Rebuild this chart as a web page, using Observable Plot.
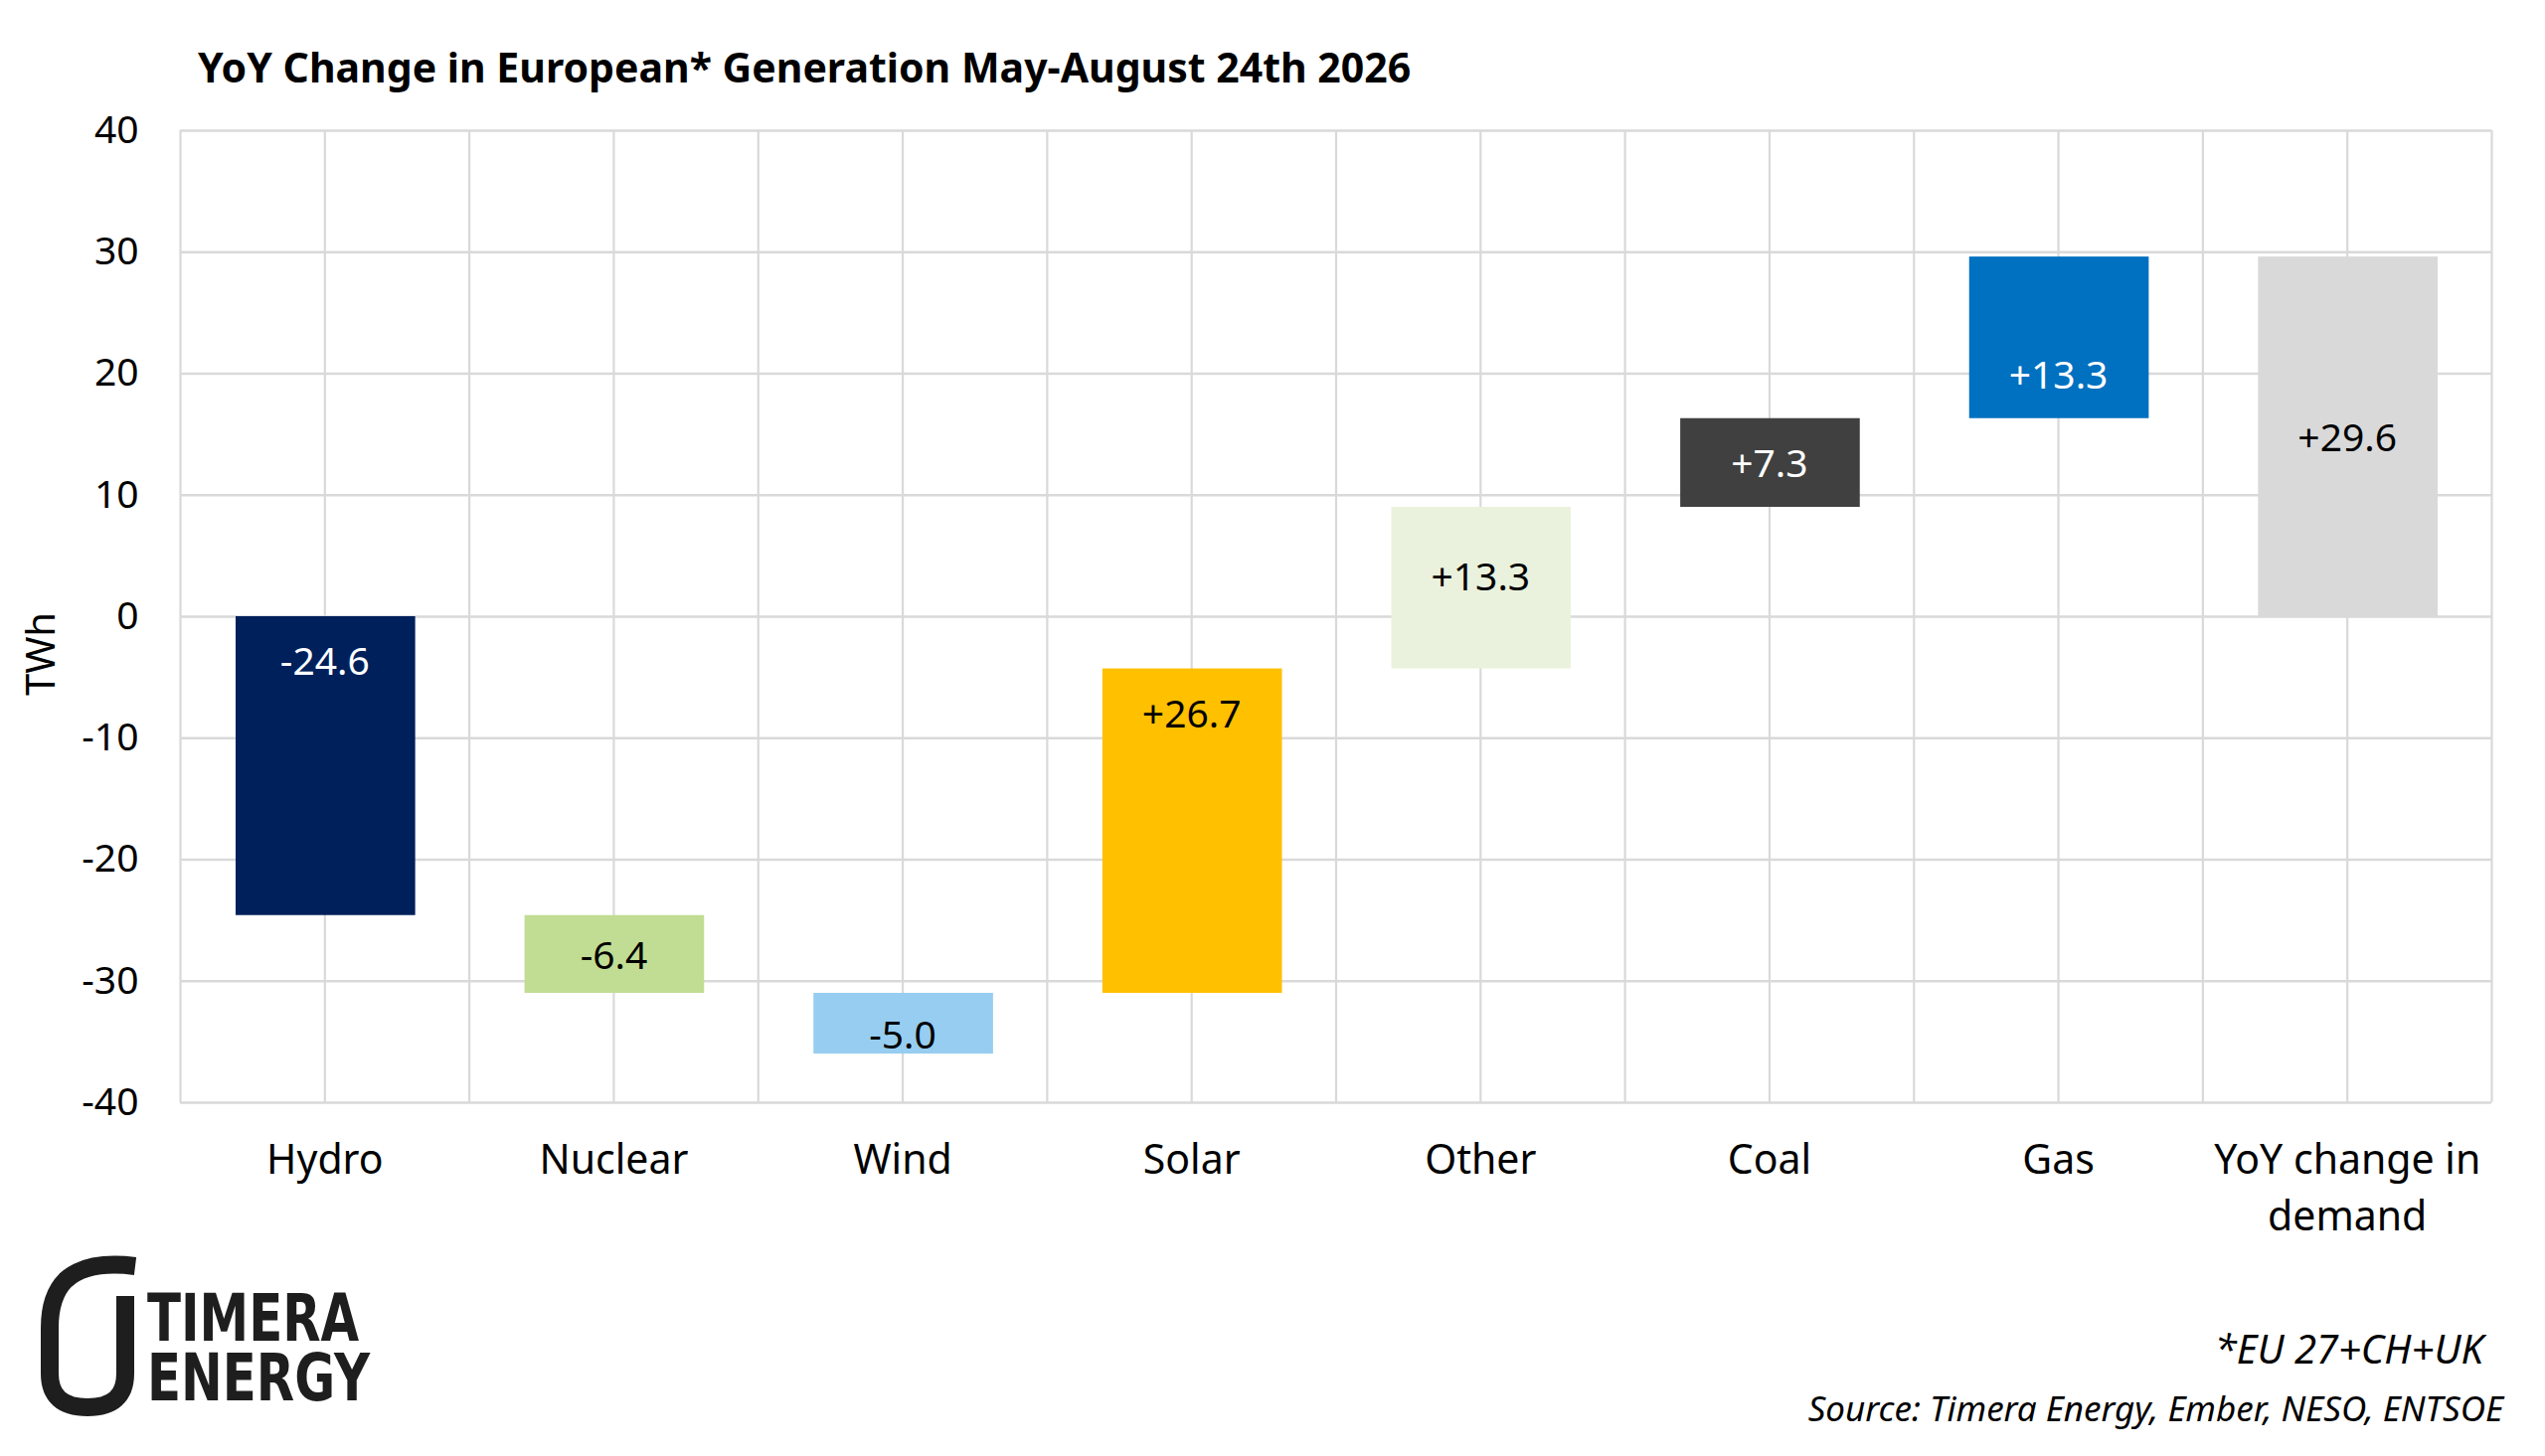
<!DOCTYPE html>
<html>
<head>
<meta charset="utf-8">
<script src="https://cdn.jsdelivr.net/npm/d3@7"></script>
<script src="https://cdn.jsdelivr.net/npm/@observablehq/plot@0.6"></script>
<style>
  html, body { margin: 0; padding: 0; background: #fff; }
  #page { position: relative; width: 2560px; height: 1465px; background: #fff; font-family: "Noto Sans", sans-serif; color: #000; }
  #title { position: absolute; left: 199px; top: 47px; font-size: 41px; line-height: 1; font-weight: 700; white-space: nowrap; }
  #chart { position: absolute; left: 0; top: 100px; }
  #ylabel { position: absolute; left: 40px; top: 658px; font-size: 40px; line-height: 1; white-space: nowrap; transform: translate(-50%, -50%) rotate(-90deg); }
  .note { position: absolute; font-style: italic; line-height: 1; white-space: nowrap; text-align: right; }
  #logo { position: absolute; left: 36px; top: 1260px; }
  #logotext { position: absolute; left: 148px; top: 1297px; display: inline-block; font-family: "DejaVu Sans Condensed", "DejaVu Sans", sans-serif; font-weight: 700; font-size: 66px; line-height: 60px; color: #1e1e1e; white-space: pre; transform-origin: 0 0; }
</style>
</head>
<body>
<div id="page">
  <div id="title">YoY Change in European* Generation May-August 24th 2026</div>
  <div id="chart"></div>
  <div id="ylabel">TWh</div>
  <svg id="logo" width="120" height="180" viewBox="0 0 120 180">
    <path d="M100 14 Q52 8 30 28 Q14 44 14 76 L14 122 Q14 156 52 156 Q90 156 90 122 L90 44" fill="none" stroke="#1e1e1e" stroke-width="18"/>
  </svg>
  <div id="logotext">TIMERA
ENERGY</div>
  <div class="note" style="right:62px; top:1337px; font-size:40px;">*EU 27+CH+UK</div>
  <div class="note" style="right:42px; top:1399px; font-size:35px;">Source: Timera Energy, Ember, NESO, ENTSOE</div>
</div>
<script>
const categories = ["Hydro", "Nuclear", "Wind", "Solar", "Other", "Coal", "Gas", "YoY change in\ndemand"];
const changes = [-24.6, -6.4, -5.0, 26.7, 13.3, 7.3, 13.3, 29.6];
const bases = [0, -24.6, -31.0, -31.0, -4.3, 9.0, 16.3, 0];
const barColors = ["#00205B", "#C0DD93", "#96CDF0", "#FFC000", "#EAF2DD", "#404040", "#0070C0", "#D9D9D9"];
const labelColors = ["#fff", "#000", "#000", "#000", "#000", "#fff", "#fff", "#000"];
const labelPlacement = ["top", "mid", "low", "top", "high", "mid", "bottom", "mid"];
const yTicks = [-40, -30, -20, -10, 0, 10, 20, 30, 40];
const xGrid = [0, 0.5, 1, 1.5, 2, 2.5, 3, 3.5, 4, 4.5, 5, 5.5, 6, 6.5, 7, 7.5, 8];

const data = categories.map((cat, i) => {
  const base = bases[i], end = bases[i] + changes[i];
  return {
    i, cat, base, end,
    hi: Math.max(base, end), lo: Math.min(base, end),
    label: (changes[i] > 0 ? "+" : "") + changes[i].toFixed(1),
    color: barColors[i], labelColor: labelColors[i], place: labelPlacement[i]
  };
});

const labelY = d => d.place === "top" ? d.hi : d.place === "bottom" ? d.lo : (d.hi + d.lo) / 2;
const placeDy = { top: 46, bottom: -43, mid: 2, low: 12, high: -10 };

const chart = Plot.plot({
  width: 2560,
  height: 1180,
  marginTop: 31,
  marginBottom: 171,
  marginLeft: 181,
  marginRight: 54,
  style: { fontFamily: "Noto Sans, sans-serif", color: "#000", background: "#fff" },
  x: { domain: [0, 8], axis: null },
  y: { domain: [-40, 40] },
  marks: [
    Plot.ruleX(xGrid, { stroke: "#D9D9D9", strokeWidth: 2.2 }),
    Plot.ruleY(yTicks, { stroke: "#D9D9D9", strokeWidth: 2.6 }),
    Plot.rectY(data, {
      x1: d => d.i, x2: d => d.i + 1,
      y1: "base", y2: "end",
      fill: "color", insetLeft: 56, insetRight: 54
    }),
    ...Object.keys(placeDy).map(g => Plot.text(data.filter(d => d.place === g), {
      x: d => d.i + 0.5, y: labelY, text: "label",
      fill: "labelColor", fontSize: 39, dy: placeDy[g]
    })),
    Plot.axisY({ ticks: yTicks, tickSize: 0, tickPadding: 42, fontSize: 39, label: null, tickFormat: d => String(d) }),
    Plot.text(data, {
      x: d => d.i + 0.5, text: "cat", frameAnchor: "bottom",
      dy: 32, lineAnchor: "top", lineHeight: 1.37, fontSize: 41, fill: "#000"
    })
  ]
});
document.getElementById("chart").appendChild(chart);

// fit the condensed logo block to its width
const logoText = document.getElementById("logotext");
const lw = logoText.getBoundingClientRect().width;
if (lw > 0) logoText.style.transform = `scaleX(${224 / lw})`;
</script>
</body>
</html>
